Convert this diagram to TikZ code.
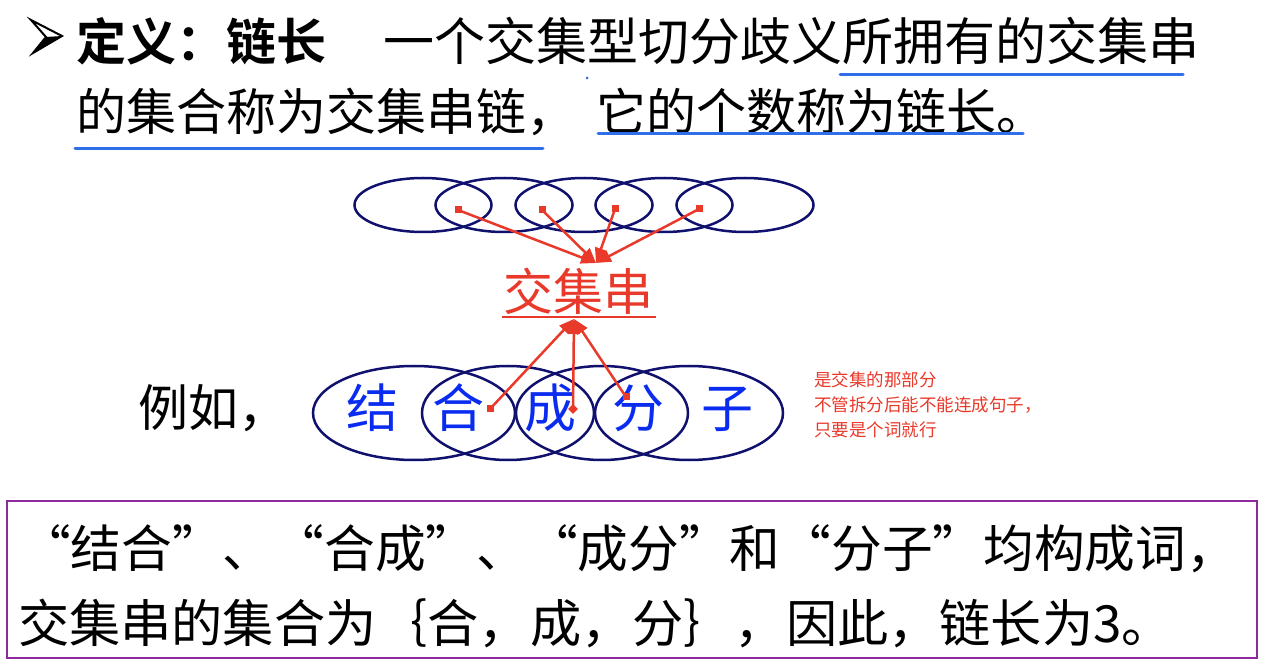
\documentclass[tikz,border=0pt]{standalone}
\usepackage{fontspec}
\newfontfamily\cjk[BoldFont={Noto Sans CJK SC Bold}]{Noto Sans CJK SC}
\usetikzlibrary{shapes.geometric,arrows.meta}
\definecolor{navyline}{HTML}{10106E}
\definecolor{chainred}{HTML}{E8392A}
\definecolor{noteblue}{HTML}{2F6FE8}
\definecolor{charblue}{HTML}{0A2CF0}
\definecolor{boxpurple}{HTML}{8E2A9E}
\tikzset{
  body/.style={inner sep=0pt, anchor=base west, font={\cjk\fontsize{50}{60}\selectfont}},
  ell/.style={draw=navyline, line width=2.5pt, ellipse, inner sep=0pt},
  dotsq/.style={fill=chainred, inner sep=0pt, minimum size=7pt, rectangle},
  redarrow/.style={draw=chainred, line width=2.5pt, -{Triangle[length=15pt,width=12pt]}},
  hilite/.style={draw=noteblue, line width=3pt, line cap=round},
  wordchar/.style={inner sep=0pt, anchor=base, text=charblue, font={\cjk\fontsize{52}{60}\selectfont}},
}
\begin{document}
\begin{tikzpicture}[x=1pt,y=-1pt]
\useasboundingbox (0,0) rectangle (1262,668);

% bullet: three-faceted arrowhead
\coordinate (bA) at (31,20);
\coordinate (bT) at (62,36);
\coordinate (bB) at (33,53);
\coordinate (bN) at (46,37);
\fill[black] (bN) -- (bT) -- (bB) -- cycle;
\draw[black, line width=2pt, line join=miter] (bA) -- (bT) -- (bB) -- (bN) -- cycle;

% definition text
\node[body, font={\cjk\bfseries\fontsize{50}{60}\selectfont}] (defhead) at (76,61) {定义：链长};
\node[body, font={\cjk\fontsize{51}{60}\selectfont}] (def1) at (383,61) {一个交集型切分歧义所拥有的交集串};
\node[body] (def2a) at (76,131) {的集合称为交集串链，};
\node[body] (def2b) at (596,131) {它的个数称为链长。};

% hand-drawn highlights
\draw[hilite] (840,75) -- (1183,75);
\draw[hilite] (75,149) -- (543,149);
\draw[hilite] (598,134) -- (1023,134);
\fill[noteblue] (587,78) circle (1.5pt);

% upper chain of segments
\node[ell, minimum width=137pt, minimum height=54pt] (u1) at (423,205) {};
\node[ell, minimum width=137pt, minimum height=54pt] (u2) at (504,205) {};
\node[ell, minimum width=137pt, minimum height=54pt] (u3) at (584,205) {};
\node[ell, minimum width=137pt, minimum height=54pt] (u4) at (664,205) {};
\node[ell, minimum width=137pt, minimum height=54pt] (u5) at (745,205) {};

\node[dotsq] (ud1) at (458,210) {};
\node[dotsq] (ud2) at (542,210) {};
\node[dotsq] (ud3) at (615,209) {};
\node[dotsq] (ud4) at (699,209) {};
\coordinate (utip) at (596,263);
\foreach \d in {ud1,ud2,ud3,ud4} \draw[redarrow] (\d.center) -- (utip);

% label for the overlapping strings
\node[inner sep=0pt, anchor=base, text=chainred, font={\cjk\fontsize{50}{60}\selectfont}] (chain) at (578,311) {交集串};
\draw[draw=chainred, line width=2.5pt] (502,317) -- (656,317);

% example sentence
\node[body] (eg) at (138,427) {例如，};
\node[ell, minimum width=202pt, minimum height=94pt] (w1) at (414,413) {};
\node[ell, minimum width=172pt, minimum height=94pt] (w2) at (508,413) {};
\node[ell, minimum width=172pt, minimum height=94pt] (w3) at (602,413) {};
\node[ell, minimum width=188pt, minimum height=94pt] (w4) at (689,413) {};

\node[wordchar] (c1) at (372,428) {结};
\node[wordchar] (c2) at (458,428) {合};
\node[wordchar] (c3) at (550,428) {成};
\node[wordchar] (c4) at (638,428) {分};
\node[wordchar] (c5) at (727,428) {子};

\node[dotsq] (ld1) at (490,409) {};
\node[dotsq, rotate=45] (ld2) at (573,409) {};
\node[dotsq] (ld3) at (626,397) {};
\coordinate (ltip) at (574,319);
\foreach \d in {ld1,ld2,ld3} \draw[redarrow] (\d.center) -- (ltip);

% side note
\node[inner sep=0pt, anchor=north west, align=left, text=chainred,
      font={\cjk\fontsize{17.5}{25}\selectfont}] (note) at (814,371)
  {是交集的那部分\\不管拆分后能不能连成句子，\\只要是个词就行};

% conclusion box
\node[draw=boxpurple, line width=2pt, inner sep=0pt, minimum width=1250pt, minimum height=157pt, anchor=north west] (box) at (6,500) {};
\node[body, font={\cjk\fontsize{50.7}{60}\selectfont}] (res1) at (20,567) {“结合”、“合成”、“成分”和“分子”均构成词，};
\node[body, font={\cjk\fontsize{51.2}{60}\selectfont}] (res2) at (18,642) {交集串的集合为｛合，成，分｝，因此，链长为3。};
\end{tikzpicture}
\end{document}
